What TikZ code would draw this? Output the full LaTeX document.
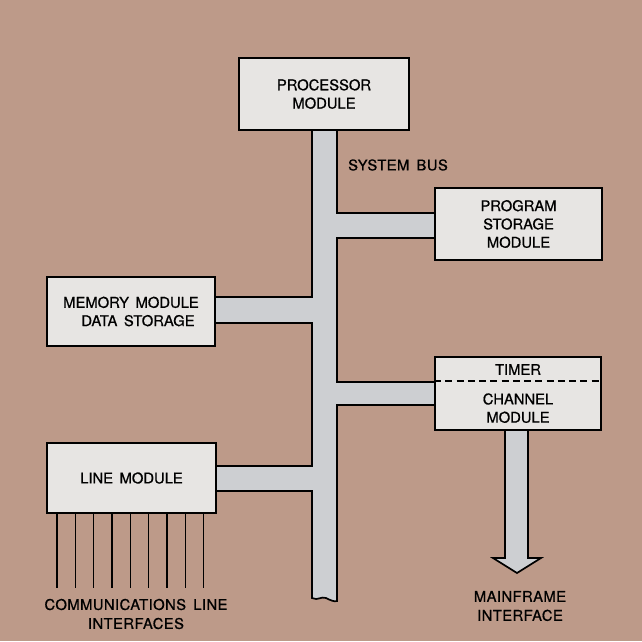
\documentclass[tikz,border=0pt]{standalone}
\usepackage{fontspec}
\setmainfont{TeX Gyre Heros}[WordSpace=1.6, FakeBold=0.8]
\usepackage{tikz}
\usetikzlibrary{arrows.meta,positioning}
\definecolor{bgtan}{HTML}{BD9A89}
\definecolor{boxgray}{HTML}{E7E5E3}
\definecolor{busgray}{HTML}{CDCFD2}

\begin{document}
\begin{tikzpicture}[
  x=0.025cm, y=-0.025cm,
  module/.style={rectangle, draw=black, fill=boxgray, line width=1.2pt, align=center, inner sep=0pt, font=\fontsize{10.5}{13}\selectfont\addfontfeatures{FakeBold=0.8}},
  busline/.style={draw=black, fill=busgray, line width=1.2pt, line join=miter},
  caption/.style={align=center, font=\fontsize{10.5}{13.5}\selectfont\addfontfeatures{LetterSpace=3, FakeBold=0.8}},
  wire/.style={draw=black, line width=1pt}
]
% background
\fill[bgtan] (0,0) rectangle (642,641);
\useasboundingbox (0,0) rectangle (642,641);

% system bus with its branches
\filldraw[busline] (312,125) -- (312,297) -- (215,297) -- (215,323) -- (312,323)
  -- (312,466) -- (216,466) -- (216,491) -- (312,491) -- (312,598)
  .. controls (318,601) and (321,596) .. (326,598)
  .. controls (330,600) and (334,602) .. (337,601)
  -- (337,405) -- (435,405) -- (435,382) -- (337,382)
  -- (337,238) -- (435,238) -- (435,213) -- (337,213) -- (337,125) -- cycle;

% mainframe arrow
\filldraw[busline] (505,425) -- (505,558) -- (493,558) -- (517,573) -- (541,558)
  -- (528,558) -- (528,425) -- cycle;

% modules
\node[module, minimum width=4.25cm, minimum height=1.8cm] (proc) at (324,94) {PROCESSOR\\MODULE};
\node[module, minimum width=4.175cm, minimum height=1.8cm] (prog) at (518.5,224) {PROGRAM\\STORAGE\\MODULE};
\node[module, minimum width=4.2cm, minimum height=1.725cm] (mem) at (131,311.5) {MEMORY MODULE\\\hspace*{0.35cm}DATA STORAGE};
\node[module, minimum width=4.15cm, minimum height=1.825cm] (chan) at (518,393.5) {TIMER\\[8pt]CHANNEL\\MODULE};
\node[module, minimum width=4.225cm, minimum height=1.75cm] (line) at (131.5,478) {LINE MODULE};
\draw[dashed, line width=1pt, dash pattern=on 5pt off 3pt] ([yshift=0.3125cm]chan.west) -- ([yshift=0.3125cm]chan.east);

% communication lines
\foreach \i in {0,...,8}
  \draw[wire] ([xshift=0.275cm+\i*0.4575cm]line.south west) -- ++(0,74);

% labels
\node[caption] (bus) at (398,165) {SYSTEM BUS};
\node[caption] (comm) at (136,614) {COMMUNICATIONS LINE\\INTERFACES};
\node[caption] (mainframe) at (520,606) {MAINFRAME\\INTERFACE};
\end{tikzpicture}
\end{document}
